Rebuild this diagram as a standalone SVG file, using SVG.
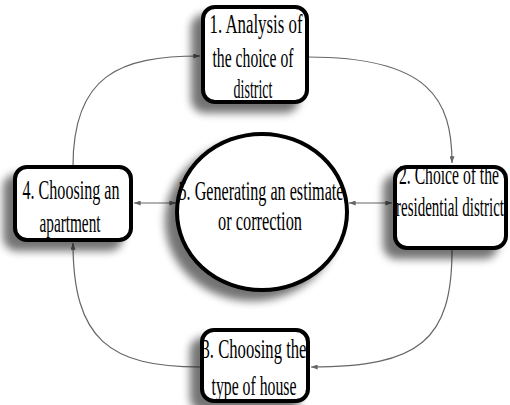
<svg xmlns="http://www.w3.org/2000/svg" width="510" height="405" viewBox="0 0 510 405">
<defs>
<filter id="sh" x="-30%" y="-30%" width="160%" height="160%">
<feGaussianBlur in="SourceAlpha" stdDeviation="4"/>
<feOffset dx="-10" dy="9" result="b"/>
<feComponentTransfer><feFuncA type="linear" slope="0.55"/></feComponentTransfer>
<feMerge><feMergeNode/><feMergeNode in="SourceGraphic"/></feMerge>
</filter>
<marker id="ah" viewBox="0 0 8 6" refX="8" refY="3" markerWidth="7" markerHeight="5" markerUnits="userSpaceOnUse" orient="auto-start-reverse">
<path d="M0,0 L8,3 L0,6 Z" fill="#666"/>
</marker>
</defs>
<style>
.box{fill:#fff;stroke:#000;stroke-width:4}
.t{font-family:"Liberation Serif","Times New Roman",serif;font-size:27px;fill:#000;text-anchor:middle}
.c{fill:none;stroke:#666;stroke-width:1.2}
</style>
<g id="connectors">
<path class="c" d="M308,57 C430,57 452,100 452,163" marker-end="url(#ah)"/>
<path class="c" d="M73,166 C73,75 120,56 200,56" marker-end="url(#ah)"/>
<path class="c" d="M452,250 C452,340 420,367 311,367" marker-end="url(#ah)"/>
<path class="c" d="M200,367 C110,367 73,340 73,243" marker-end="url(#ah)"/>
<path class="c" d="M134,203 L176,203" marker-start="url(#ah)" marker-end="url(#ah)"/>
<path class="c" d="M349,203 L392,203" marker-start="url(#ah)" marker-end="url(#ah)"/>
</g>
<g id="node1">
<rect class="box" x="203" y="7" width="104" height="95" rx="12" filter="url(#sh)"/>
<text class="t" x="256" y="33" textLength="93" lengthAdjust="spacingAndGlyphs">1. Analysis of</text>
<text class="t" x="253" y="67" textLength="81" lengthAdjust="spacingAndGlyphs">the choice of</text>
<text class="t" x="253" y="98" textLength="39" lengthAdjust="spacingAndGlyphs">district</text>
</g>
<g id="node2">
<rect class="box" x="395" y="167" width="111" height="81" rx="12" filter="url(#sh)"/>
<text class="t" x="449" y="184" textLength="100" lengthAdjust="spacingAndGlyphs">2. Choice of the</text>
<text class="t" x="450" y="216" textLength="108" lengthAdjust="spacingAndGlyphs">residential district</text>
</g>
<g id="node4">
<rect class="box" x="15" y="167" width="116" height="73" rx="12" filter="url(#sh)"/>
<text class="t" x="71" y="199" textLength="97" lengthAdjust="spacingAndGlyphs">4. Choosing an</text>
<text class="t" x="70" y="232" textLength="61" lengthAdjust="spacingAndGlyphs">apartment</text>
</g>
<g id="node5">
<ellipse class="box" cx="262" cy="212" rx="85" ry="78" filter="url(#sh)"/>
<text class="t" x="261" y="200" textLength="165" lengthAdjust="spacingAndGlyphs">5. Generating an estimate</text>
<text class="t" x="260" y="230" textLength="84" lengthAdjust="spacingAndGlyphs">or correction</text>
</g>
<g id="node3">
<rect class="box" x="202" y="330" width="106" height="71" rx="12" filter="url(#sh)"/>
<text class="t" x="254" y="358" textLength="105" lengthAdjust="spacingAndGlyphs">3. Choosing the</text>
<text class="t" x="254" y="395" textLength="85" lengthAdjust="spacingAndGlyphs">type of house</text>
</g>
</svg>
